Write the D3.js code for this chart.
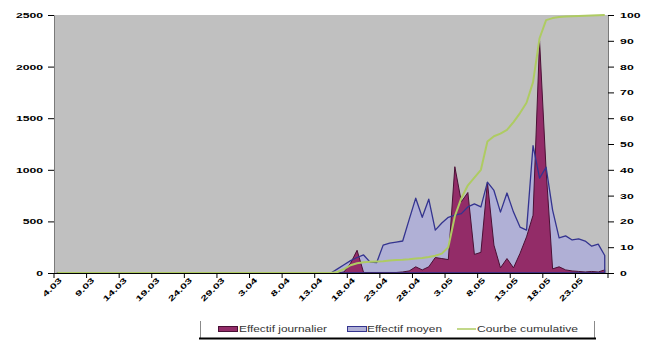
<!DOCTYPE html>
<html>
<head>
<meta charset="utf-8">
<script src="https://cdn.jsdelivr.net/npm/d3@7"></script>
<style>
  body { margin: 0; background: #fff; }
  svg { display: block; font-family: "Liberation Sans", Arial, sans-serif; }
</style>
</head>
<body>
<svg id="chart" width="656" height="340"></svg>
<script>
// Days of the epidemic period, 4 March to 27 May
const categories = [
  "4.03","5.03","6.03","7.03","8.03","9.03","10.03","11.03","12.03","13.03",
  "14.03","15.03","16.03","17.03","18.03","19.03","20.03","21.03","22.03","23.03",
  "24.03","25.03","26.03","27.03","28.03","29.03","30.03","31.03","1.04","2.04",
  "3.04","4.04","5.04","6.04","7.04","8.04","9.04","10.04","11.04","12.04",
  "13.04","14.04","15.04","16.04","17.04","18.04","19.04","20.04","21.04","22.04",
  "23.04","24.04","25.04","26.04","27.04","28.04","29.04","30.04","1.05","2.05",
  "3.05","4.05","5.05","6.05","7.05","8.05","9.05","10.05","11.05","12.05",
  "13.05","14.05","15.05","16.05","17.05","18.05","19.05","20.05","21.05","22.05",
  "23.05","24.05","25.05","26.05","27.05"
];

// Effectif journalier (daily count)
const daily = [
  0,0,0,0,0,0,0,0,0,0,
  0,0,0,0,0,0,0,0,0,0,
  0,0,0,0,0,0,0,0,0,0,
  0,0,0,0,0,0,0,0,0,0,
  0,0,0,0,10,95,220,5,5,5,
  5,5,5,10,20,60,30,60,150,140,
  130,1030,690,780,180,200,880,270,50,140,
  50,190,350,560,2250,1000,40,60,30,20,
  15,10,15,10,30
];

// Effectif moyen (mean count)
const mean = [
  0,0,0,0,0,0,0,0,0,0,
  0,0,0,0,0,0,0,0,0,0,
  0,0,0,0,0,0,0,0,0,0,
  0,0,0,0,0,0,0,0,0,0,
  0,0,0,40,80,120,150,175,105,100,
  270,290,300,310,520,725,540,715,415,485,
  540,560,575,640,670,640,880,800,590,775,
  590,445,415,1235,920,1025,610,340,360,320,
  330,310,260,280,170
];

// Courbe cumulative (percent)
const cumulative = [
  0,0,0,0,0,0,0,0,0,0,
  0,0,0,0,0,0,0,0,0,0,
  0,0,0,0,0,0,0,0,0,0,
  0,0,0,0,0,0,0,0,0,0,
  0,0,0,0.4,1.5,3.0,3.8,4.2,4.4,4.5,
  4.6,4.8,5.0,5.1,5.3,5.6,5.8,6.2,6.7,7.5,
  10,22,29,34,37,40,51,53,54,55.5,
  58.5,62,66,74,91,98,98.8,99.2,99.4,99.5,
  99.6,99.7,99.8,99.9,100
];

const xTickLabels = ["4.03","9.03","14.03","19.03","24.03","29.03","3.04","8.04","13.04",
  "18.04","23.04","28.04","3.05","8.05","13.05","18.05","23.05"];
const leftTicks = [0, 500, 1000, 1500, 2000, 2500];
const rightTicks = [0, 10, 20, 30, 40, 50, 60, 70, 80, 90, 100];

const legendItems = [
  { label: "Effectif journalier", kind: "area", fill: "#932c68", stroke: "#4a1035" },
  { label: "Effectif moyen", kind: "area", fill: "#b0b0d6", stroke: "#34348f" },
  { label: "Courbe cumulative", kind: "line", stroke: "#aecb62" }
];

const svg = d3.select("#chart");
const plot = { left: 54, right: 608, top: 15, bottom: 273 };

const x = d3.scaleBand().domain(categories).range([plot.left, plot.right]).padding(0);
const cx = i => x(categories[i]) + x.bandwidth() / 2;
const yL = d3.scaleLinear().domain([0, 2500]).range([plot.bottom, plot.top]);
const yR = d3.scaleLinear().domain([0, 100]).range([plot.bottom, plot.top]);

// Plot background
svg.append("rect")
  .attr("x", plot.left).attr("y", plot.top)
  .attr("width", plot.right - plot.left).attr("height", plot.bottom - plot.top)
  .attr("fill", "#c0c0c0");

const areaL = d3.area().x((d, i) => cx(i)).y0(yL(0)).y1(d => yL(d));
const lineR = d3.line().x((d, i) => cx(i)).y(d => yR(d));

// Mean area (behind)
svg.append("path").datum(mean)
  .attr("d", areaL).attr("fill", legendItems[1].fill);

// Daily area
svg.append("path").datum(daily)
  .attr("d", areaL).attr("fill", legendItems[0].fill)
  .attr("stroke", legendItems[0].stroke).attr("stroke-width", 1)
  .attr("stroke-linejoin", "round");

// Mean outline on top
svg.append("path").datum(mean)
  .attr("d", areaL).attr("fill", "none")
  .attr("stroke", legendItems[1].stroke).attr("stroke-width", 1.3)
  .attr("stroke-linejoin", "round");

// Cumulative curve on the right axis
svg.append("path").datum(cumulative)
  .attr("d", lineR).attr("fill", "none")
  .attr("stroke", legendItems[2].stroke).attr("stroke-width", 2)
  .attr("stroke-linejoin", "round");

// Left axis
const gL = svg.append("g").attr("transform", `translate(${plot.left},0)`)
  .call(d3.axisLeft(yL).tickValues(leftTicks).tickSize(6).tickSizeOuter(0).tickFormat(d3.format("d")));
gL.select(".domain").attr("stroke", "#7a7a7a");
gL.selectAll(".tick line").attr("stroke", "#000");
gL.selectAll(".tick text")
  .attr("x", -6.2).attr("dy", "0.36em")
  .attr("transform", "scale(1.75,1)")
  .attr("font-size", 7).attr("font-weight", "bold").attr("fill", "#000")
  .attr("font-family", "'Liberation Sans', Arial, sans-serif");

// Right axis
const gR = svg.append("g").attr("transform", `translate(${plot.right},0)`)
  .call(d3.axisRight(yR).tickValues(rightTicks).tickSize(6).tickSizeOuter(0).tickFormat(d3.format("d")));
gR.select(".domain").attr("stroke", "#7a7a7a");
gR.selectAll(".tick line").attr("stroke", "#000");
gR.selectAll(".tick text")
  .attr("x", 6.9).attr("dy", "0.36em")
  .attr("transform", "scale(1.75,1)")
  .attr("font-size", 7).attr("font-weight", "bold").attr("fill", "#000")
  .attr("font-family", "'Liberation Sans', Arial, sans-serif");

// Category axis: ticks on category boundaries every 5 days, labels at category centres
const gX = svg.append("g");
gX.append("line")
  .attr("x1", plot.left).attr("x2", plot.right)
  .attr("y1", plot.bottom + 0.5).attr("y2", plot.bottom + 0.5)
  .attr("stroke", "#000");
const tickIdx = d3.range(0, categories.length + 1, 5);
gX.selectAll("line.tk").data(tickIdx).join("line").attr("class", "tk")
  .attr("x1", i => i < categories.length ? x(categories[i]) : plot.right)
  .attr("x2", i => i < categories.length ? x(categories[i]) : plot.right)
  .attr("y1", plot.bottom).attr("y2", plot.bottom + 5)
  .attr("stroke", "#000");
gX.selectAll("text").data(xTickLabels).join("text")
  .attr("transform", d => `translate(${cx(categories.indexOf(d)) + 3},${plot.bottom + 6}) rotate(-45) scale(1.6,1)`)
  .attr("text-anchor", "end").attr("dy", "0.35em")
  .attr("font-size", 7.5).attr("font-weight", "bold").attr("fill", "#000")
  .text(d => d);

// Legend
const lg = svg.append("g");
lg.append("line").attr("x1", 200.5).attr("x2", 200.5).attr("y1", 321).attr("y2", 338).attr("stroke", "#8a8a8a");
lg.append("line").attr("x1", 594.5).attr("x2", 594.5).attr("y1", 321).attr("y2", 338).attr("stroke", "#8a8a8a");
lg.append("line").attr("x1", 199).attr("x2", 596).attr("y1", 338.5).attr("y2", 338.5).attr("stroke", "#000").attr("stroke-width", 2);

const legendPos = [
  { sx: 218, tx: 239, tw: 88 },
  { sx: 347, tx: 367, tw: 75 },
  { sx: 457, tx: 477, tw: 101 }
];
legendItems.forEach((it, k) => {
  const p = legendPos[k];
  if (it.kind === "area") {
    lg.append("rect").attr("x", p.sx + 0.5).attr("y", 326.5).attr("width", 19).attr("height", 5)
      .attr("fill", it.fill).attr("stroke", it.stroke).attr("stroke-width", 1);
  } else {
    lg.append("line").attr("x1", p.sx).attr("x2", p.sx + 19).attr("y1", 329).attr("y2", 329)
      .attr("stroke", it.stroke).attr("stroke-width", 1.5);
  }
  lg.append("text").attr("x", p.tx).attr("y", 332)
    .attr("font-size", 9).attr("fill", "#333")
    .attr("textLength", p.tw).attr("lengthAdjust", "spacingAndGlyphs")
    .text(it.label);
});
</script>
</body>
</html>
